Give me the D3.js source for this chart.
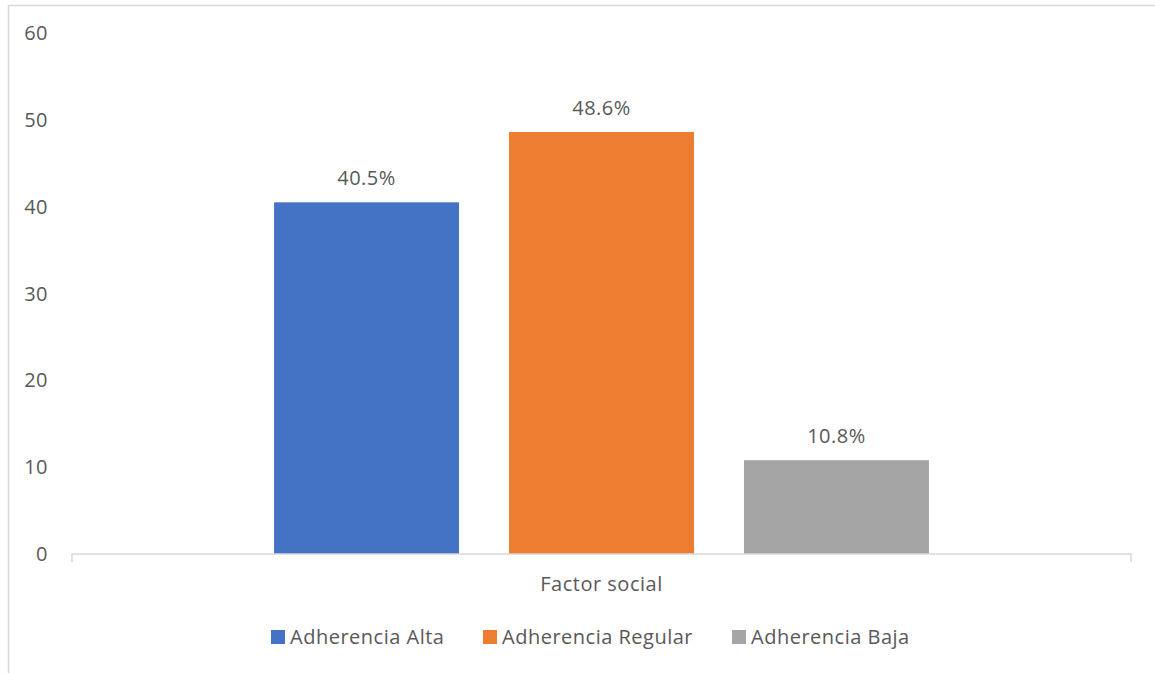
<!DOCTYPE html>
<html>
<head>
<meta charset="utf-8">
<script src="https://cdn.jsdelivr.net/npm/d3@7"></script>
<style>
  html, body { margin: 0; padding: 0; background: #fff; }
  svg { display: block; }
  text { font-family: "Open Sans", "Noto Sans", sans-serif; fill: #595959; font-size: 20px; letter-spacing: 0.5px; }
</style>
</head>
<body>
<svg id="chart" width="1155" height="673"></svg>
<script>
// Chart data
const categories = ["Factor social"];
const seriesNames = ["Adherencia Alta", "Adherencia Regular", "Adherencia Baja"];
const seriesValues = [40.5, 48.6, 10.8];
const seriesColors = ["#4472C4", "#ED7D31", "#A5A5A5"];
const yTicks = [0, 10, 20, 30, 40, 50, 60];

const svg = d3.select("#chart");
const W = 1155, H = 673;

// Outer chart frame
svg.append("rect")
  .attr("x", 8.5).attr("y", 5.5)
  .attr("width", W + 10).attr("height", H + 10)
  .attr("fill", "none").attr("stroke", "#d9d9d9").attr("stroke-width", 1.5);

const plot = { left: 72, right: 1131, top: 33, bottom: 554 };

const x0 = d3.scaleBand().domain(categories).range([plot.left, plot.right]).paddingInner(0).paddingOuter(0);
const x1 = d3.scaleBand().domain(seriesNames).range([0, x0.bandwidth()]).paddingInner(0.2128).paddingOuter(0.86);
const y = d3.scaleLinear().domain([0, 60]).range([plot.bottom, plot.top]);

// Y axis labels (no axis line)
svg.append("g").selectAll("text").data(yTicks).join("text")
  .attr("x", 48).attr("y", d => y(d))
  .attr("dy", "0.35em")
  .attr("text-anchor", "end")
  .text(d => d);

// Bars
const data = seriesNames.map((s, i) => ({ series: s, value: seriesValues[i], color: seriesColors[i] }));
const g = svg.append("g").attr("transform", `translate(${x0(categories[0])},0)`);
g.selectAll("rect").data(data).join("rect")
  .attr("x", d => x1(d.series))
  .attr("y", d => y(d.value))
  .attr("width", x1.bandwidth())
  .attr("height", d => y(0) - y(d.value))
  .attr("fill", d => d.color);

// Value labels
g.selectAll("text.val").data(data).join("text")
  .attr("class", "val")
  .attr("x", d => x1(d.series) + x1.bandwidth() / 2)
  .attr("y", d => y(d.value) - 17)
  .attr("text-anchor", "middle")
  .text(d => d.value.toFixed(1) + "%");

// X axis baseline with end ticks
svg.append("path")
  .attr("d", `M${plot.left},${plot.bottom + 8}V${plot.bottom}H${plot.right}V${plot.bottom + 8}`)
  .attr("fill", "none").attr("stroke", "#d9d9d9").attr("stroke-width", 1.5);

// Category label
svg.selectAll("text.cat").data(categories).join("text")
  .attr("class", "cat")
  .attr("x", d => x0(d) + x0.bandwidth() / 2)
  .attr("y", 584).attr("dy", "0.35em")
  .attr("text-anchor", "middle")
  .text(d => d);

// Legend
const legendX = [271, 483, 732];
const lg = svg.append("g").selectAll("g").data(data).join("g")
  .attr("transform", (d, i) => `translate(${legendX[i]},637)`);
lg.append("rect").attr("x", 0).attr("y", -7).attr("width", 14).attr("height", 14).attr("fill", d => d.color);
lg.append("text").attr("x", 19).attr("y", 0).attr("dy", "0.35em")
  .text(d => d.series);
</script>
</body>
</html>
